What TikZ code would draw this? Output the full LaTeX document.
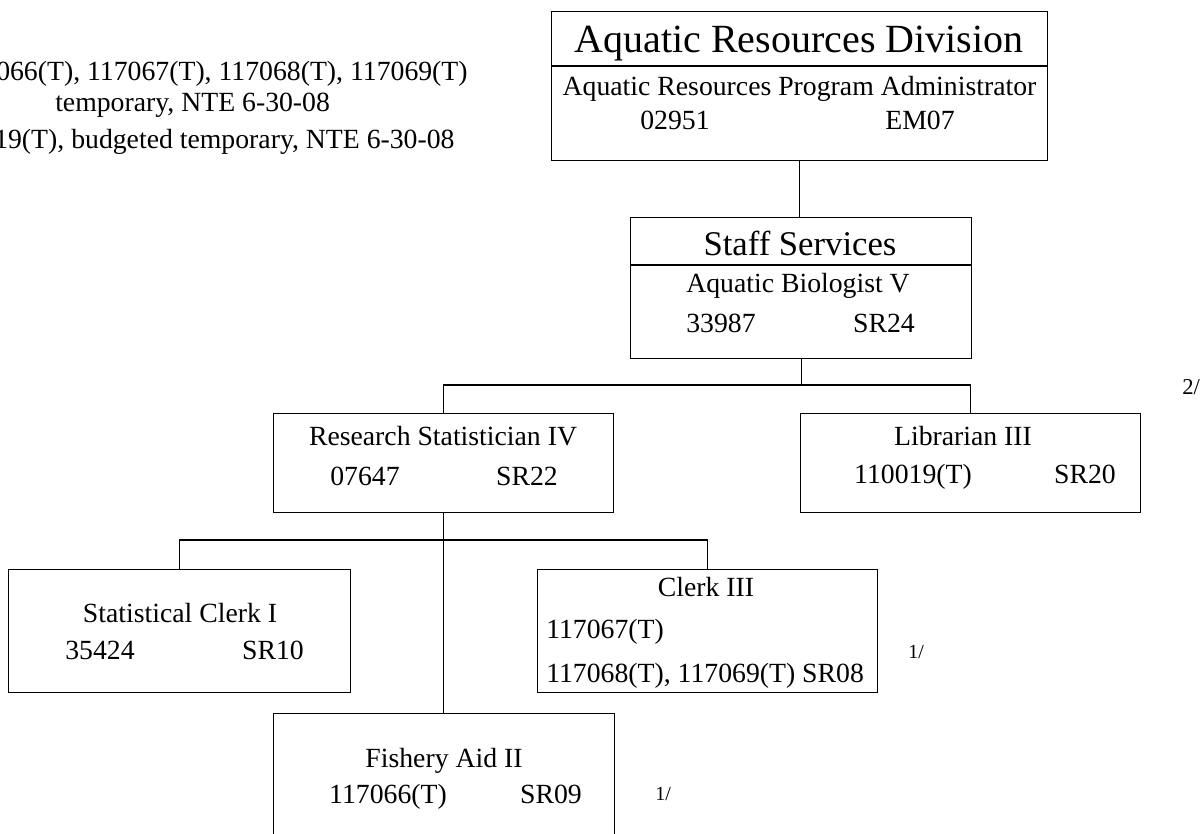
\documentclass[tikz,border=0pt]{standalone}
\usepackage{fontspec}
\setmainfont{Liberation Serif}
\usetikzlibrary{positioning}

\begin{document}
\begin{tikzpicture}[x=0.75pt,y=0.75pt,yscale=-1,xscale=1,
  box/.style={draw, line width=0.9pt, inner sep=0pt, anchor=north west},
  lbl/.style={inner sep=0.75pt, anchor=base, font=\fontsize{20.8}{24}\selectfont},
  note/.style={inner sep=0pt, anchor=base west, font=\fontsize{20.8}{24}\selectfont},
  foot/.style={inner sep=0pt, anchor=base west, font=\fontsize{15}{18}\selectfont}]
%set diagram left start at 0, and has height of 833
\useasboundingbox (0,0) rectangle (1203,833);

%Shape: Rectangle [division]
\node[box, minimum width=372pt, minimum height=111.75pt] (div) at (551,11) {};
\draw[line width=0.9pt] (div.west |- 0,66) -- (div.east |- 0,66);
%Shape: Rectangle [staff]
\node[box, minimum width=255.75pt, minimum height=105.75pt] (staff) at (630,217) {};
\draw[line width=0.9pt] (staff.west |- 0,265) -- (staff.east |- 0,265);
%Shape: Rectangle [research]
\node[box, minimum width=255pt, minimum height=74.25pt] (research) at (273,413) {};
%Shape: Rectangle [librarian]
\node[box, minimum width=255pt, minimum height=74.25pt] (librarian) at (800,413) {};
%Shape: Rectangle [statclerk]
\node[box, minimum width=256.5pt, minimum height=92.25pt] (statclerk) at (8,569) {};
%Shape: Rectangle [clerk]
\node[box, minimum width=255pt, minimum height=92.25pt] (clerk) at (537,569) {};
%Shape: Rectangle [fishery]
\node[box, minimum width=255.75pt, minimum height=100pt] (fishery) at (273,713) {};

%Straight Lines
\coordinate (busa) at (800,385);
\coordinate (busb) at (443,540);
\draw[line width=0.9pt] (div.south) -- (div.south |- staff.north);
\draw[line width=0.9pt] (staff.south) -- (staff.south |- busa);
\draw[line width=0.9pt] (research.north) |- (busa) -| (librarian.north);
\draw[line width=0.9pt] (research.south) -- (research.south |- fishery.north);
\draw[line width=0.9pt] (statclerk.north) |- (busb) -| (clerk.north);

% Text Node
\node[lbl, font=\fontsize{30}{34}\selectfont] (divt) at (799,52) {Aquatic Resources Division};
\node[lbl] (divp) at (799.5,95) {Aquatic Resources Program Administrator};
\node[lbl] (divn) at (675,129) {02951};
\node[lbl] (divg) at (920,129) {EM07};
% Text Node
\node[lbl, font=\fontsize{26}{30}\selectfont] (stafft) at (800,255) {Staff Services};
\node[lbl] (staffp) at (798,292) {Aquatic Biologist V};
\node[lbl] (staffn) at (721,332) {33987};
\node[lbl] (staffg) at (884,332) {SR24};
% Text Node
\node[lbl] (resp) at (443,445) {Research Statistician IV};
\node[lbl] (resn) at (365,485) {07647};
\node[lbl] (resg) at (527,485) {SR22};
% Text Node
\node[lbl] (libp) at (963,445) {Librarian III};
\node[lbl] (libn) at (913,483) {110019(T)};
\node[lbl] (libg) at (1085,483) {SR20};
% Text Node
\node[lbl] (statp) at (180,622) {Statistical Clerk I};
\node[lbl] (statn) at (100,659) {35424};
\node[lbl] (statg) at (273,659) {SR10};
% Text Node
\node[lbl] (clerkp) at (706,596) {Clerk III};
\node[lbl, anchor=base west] (clerka) at (545,638) {117067(T)};
\node[lbl, anchor=base west] (clerkb) at (545,682) {117068(T), 117069(T) SR08};
% Text Node
\node[lbl] (fishp) at (444,767) {Fishery Aid II};
\node[lbl] (fishn) at (388,803) {117066(T)};
\node[lbl] (fishg) at (551,803) {SR09};

% Text Node
\node[foot] (fna) at (655,800) {1/};
\node[foot] (fnb) at (908,658) {1/};
\node[foot, font=\fontsize{17}{20}\selectfont] (fnc) at (1182,394) {2/};

% Text Node
\node[note] (notea) at (-4,80) {066(T), 117067(T), 117068(T), 117069(T)};
\node[note] (noteb) at (55,111) {temporary, NTE 6-30-08};
\node[note] (notec) at (-6,148) {19(T), budgeted temporary, NTE 6-30-08};

\end{tikzpicture}
\end{document}
